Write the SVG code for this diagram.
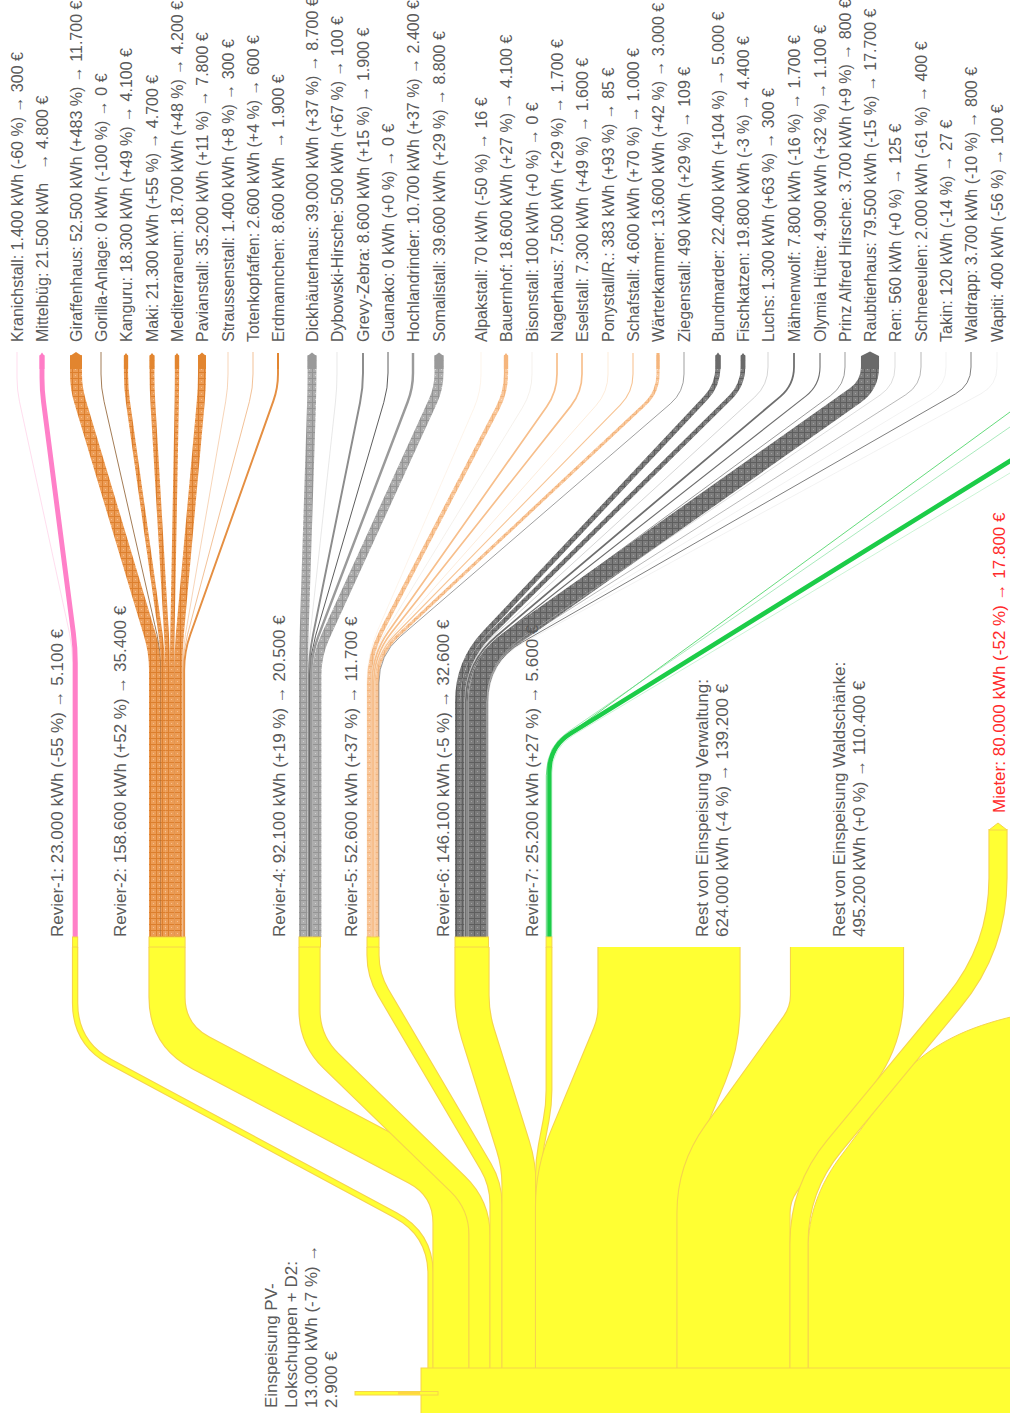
<svg xmlns="http://www.w3.org/2000/svg" width="1010" height="1413" viewBox="0 0 1010 1413">
<style>
.lbl{font-family:"Liberation Sans",Arial,sans-serif;font-size:16px;fill:#5a5a5a}
.big{font-size:17px}
.red{fill:#ff2a2a}
.lk{fill:none;stroke-linecap:butt;stroke-linejoin:round}
.yb{fill:none;stroke:#f6d44c}
.yf{fill:none;stroke:#ffff33}
.yn{fill:#ffff33;stroke:#f6d44c;stroke-width:1}
.o{stroke:url(#pO)}.g{stroke:url(#pG)}.p{stroke:url(#pP)}.d{stroke:url(#pD)}.k{stroke:#ff80c8}
</style>
<defs>
<pattern id="pO" width="6" height="6" patternUnits="userSpaceOnUse"><rect width="6" height="6" fill="#ec9c55"/><path d="M0,0.5H6M0.5,0V6" stroke="#dc7f2e" stroke-width="1"/><rect x="3" y="3" width="1" height="1" fill="#f6c08f"/></pattern>
<pattern id="pG" width="6" height="6" patternUnits="userSpaceOnUse"><rect width="6" height="6" fill="#adadad"/><path d="M0,0.5H6M0.5,0V6" stroke="#949494" stroke-width="1"/><rect x="3" y="3" width="1" height="1" fill="#d2d2d2"/></pattern>
<pattern id="pD" width="6" height="6" patternUnits="userSpaceOnUse"><rect width="6" height="6" fill="#7c7c7c"/><path d="M0,0.5H6M0.5,0V6" stroke="#5e5e5e" stroke-width="1"/><rect x="3" y="3" width="1" height="1" fill="#a2a2a2"/></pattern>
<pattern id="pP" width="6" height="6" patternUnits="userSpaceOnUse"><rect width="6" height="6" fill="#f9c699"/><path d="M0,0.5H6M0.5,0V6" stroke="#f2b47c" stroke-width="1"/><rect x="3" y="3" width="1" height="1" fill="#fde0c6"/></pattern>
<path id="y1" d="M75.1,947 V1003 Q75.1,1043 110.33,1061.93 L395.37,1215.07 Q430.6,1234 430.6,1274 V1369"/>
<path id="y2" d="M167,947 V997 Q167,1035 200.6,1052.75 L417.4,1167.25 Q451,1185 451,1223 V1369"/>
<path id="y4" d="M309.5,947 V1010 Q309.5,1040 331.03,1060.9 L457.97,1184.1 Q479.5,1205 479.5,1235 V1369"/>
<path id="y5" d="M373,947 V955 Q373,975 383.14,992.24 L485.86,1166.76 Q496,1184 496,1204 V1369"/>
<path id="y6" d="M472,947 V995 Q472,1015 477.98,1034.08 L513.02,1145.92 Q519,1165 519,1185 V1369"/>
<path id="y7" d="M549,947 V1090 Q549,1105 546.19,1119.73 L541.31,1145.27 Q538.5,1160 538.5,1175 V1369"/>
<path id="yv" d="M669,947 V1007 Q669,1032 659.39,1055.08 L616.12,1158.92 Q606.5,1182 606.5,1207 V1369"/>
<path id="yw" d="M847,947 V995 Q847,1025 829.5,1049.37 L751,1158.63 Q733.5,1183 733.5,1213 V1369"/>
<path id="ym" d="M998,829 V878 Q998,948 953.38,1001.92 L834.06,1146.13 Q799,1188.5 799,1243.5 V1369"/>
</defs>

<g id="connectors">
<use href="#y1" class="yb" stroke-width="6.4"/><use href="#y1" class="yf" stroke-width="4.2"/>
<use href="#y2" class="yb" stroke-width="37.2"/><use href="#y2" class="yf" stroke-width="35"/>
<use href="#y4" class="yb" stroke-width="22.2"/><use href="#y4" class="yf" stroke-width="20"/>
<use href="#y5" class="yb" stroke-width="13.2"/><use href="#y5" class="yf" stroke-width="11"/>
<use href="#y6" class="yb" stroke-width="35.2"/><use href="#y6" class="yf" stroke-width="33"/>
<use href="#y7" class="yb" stroke-width="6.9"/><use href="#y7" class="yf" stroke-width="4.7"/>
<use href="#yv" class="yb" stroke-width="143.2"/><use href="#yv" class="yf" stroke-width="141"/>
<use href="#yw" class="yb" stroke-width="114.2"/><use href="#yw" class="yf" stroke-width="112"/>
<path d="M808,1369 V1250 C808,1215 820,1185 838,1160 L900,1077 C932,1043 968,1027 1015,1016 L1015,1369 Z" fill="#ffff33" stroke="#f6d44c" stroke-width="1"/>
<use href="#ym" class="yb" stroke-width="19.2"/><use href="#ym" class="yf" stroke-width="17"/>

<path class="lk" stroke="#ffc6e2" stroke-width="0.6" d="M17,352 V378 Q17,390 19.53,401.73 L69.5,633.34 Q72.66,648 72.66,663 V937"/>
<path class="lk k" stroke-width="4.9" d="M42,355 V378 Q42,390 43.54,401.9 L73.38,633.12 Q75.3,648 75.3,663 V937"/>
<path class="lk o" stroke-width="11.95" d="M76,355 V374 Q76,388 80.01,401.41 L149.82,634.76 Q154.98,652 154.98,670 V937"/>
<path class="lk" stroke="#8b5a2b" stroke-width="0.8" d="M101,352 V374 Q101,388 104.1,401.65 L156.96,634.45 Q160.95,652 160.95,670 V937"/>
<path class="lk o" stroke-width="4.17" d="M126,355 V374 Q126,388 127.94,401.86 L160.54,634.17 Q163.04,652 163.04,670 V937"/>
<path class="lk o" stroke-width="4.85" d="M152,355 V374 Q152,388 152.82,401.98 L166.49,634.03 Q167.55,652 167.55,670 V937"/>
<path class="lk o" stroke-width="4.26" d="M177,355 V374 Q177,388 176.74,402 L172.43,634 Q172.1,652 172.1,670 V937"/>
<path class="lk o" stroke-width="8.01" d="M202,355 V374 Q202,388 200.75,401.94 L179.85,634.07 Q178.24,652 178.24,670 V937"/>
<path class="lk" stroke="#f1b98a" stroke-width="0.6" d="M228,352 V374 Q228,388 225.62,401.8 L185.46,634.26 Q182.4,652 182.4,670 V937"/>
<path class="lk" stroke="#eda66a" stroke-width="0.7" d="M253,352 V374 Q253,388 249.41,401.53 L187.48,634.61 Q182.86,652 182.86,670 V937"/>
<path class="lk" stroke="#e58f42" stroke-width="1.96" d="M278,353 V374 Q278,388 273.31,401.19 L190.16,635.04 Q184.13,652 184.13,670 V937"/>
<path class="lk g" stroke-width="8.88" d="M312,355 V373 Q312,388 311.52,402.99 L304.08,635.01 Q303.44,655 303.44,675 V937"/>
<path class="lk" stroke="#d8d8d8" stroke-width="0.6" d="M337,352 V373 Q337,388 335.38,402.91 L310.09,635.12 Q307.93,655 307.93,675 V937"/>
<path class="lk" stroke="#8c8c8c" stroke-width="1.96" d="M363,353 V373 Q363,388 360.03,402.7 L312.94,635.4 Q308.97,655 308.97,675 V937"/>
<path class="lk" stroke="#333" stroke-width="0.8" d="M388,352 V373 Q388,388 383.79,402.4 L315.56,635.8 Q309.95,655 309.95,675 V937"/>
<path class="lk" stroke="#9a9a9a" stroke-width="2.44" d="M413,353 V373 Q413,388 407.66,402.01 L318.3,636.32 Q311.17,655 311.17,675 V937"/>
<path class="lk g" stroke-width="9.01" d="M439,355 V373 Q439,388 432.76,401.64 L325.22,636.81 Q316.9,655 316.9,675 V937"/>
<path class="lk" stroke="#fbe2cc" stroke-width="0.4" d="M481,352 V374 Q481,392 473.84,408.52 L378.14,629.3 Q367,655 367,683 V937"/>
<path class="lk p" stroke-width="4.23" d="M506,355 V374 Q506,392 497.69,407.97 L382.03,630.16 Q369.1,655 369.1,683 V937"/>
<path class="lk" stroke="#e6dccf" stroke-width="0.4" d="M532,352 V374 Q532,392 522.61,407.36 L385.87,631.11 Q371.27,655 371.27,683 V937"/>
<path class="lk" stroke="#f7bf8c" stroke-width="1.71" d="M557,353 V374 Q557,392 546.65,406.72 L388.2,632.1 Q372.1,655 372.1,683 V937"/>
<path class="lk" stroke="#f7bf8c" stroke-width="1.66" d="M582,353 V374 Q582,392 570.83,406.11 L391.18,633.05 Q373.8,655 373.8,683 V937"/>
<path class="lk" stroke="#fbd8b6" stroke-width="0.5" d="M608,352 V374 Q608,392 596.06,405.46 L393.28,634.06 Q374.7,655 374.7,683 V937"/>
<path class="lk" stroke="#f7c494" stroke-width="1.1" d="M633,353 V374 Q633,392 620.4,404.86 L394.85,635 Q375.25,655 375.25,683 V937"/>
<path class="lk p" stroke-width="3.1" d="M658,355 V374 Q658,392 644.87,404.31 L397.73,635.86 Q377.3,655 377.3,683 V937"/>
<path class="lk" stroke="#777" stroke-width="0.7" d="M684,352 V374 Q684,392 670.37,403.75 L400.11,636.72 Q378.9,655 378.9,683 V937"/>
<path class="lk d" stroke-width="5.1" d="M718,355 V367 Q718,385 705.67,398.11 L484.95,632.86 Q457.55,662 457.55,702 V937"/>
<path class="lk d" stroke-width="4.51" d="M743,355 V367 Q743,385 730.19,397.65 L490.83,633.9 Q462.36,662 462.36,702 V937"/>
<path class="lk" stroke="#aaa" stroke-width="0.5" d="M768,352 V367 Q768,385 754.71,397.14 L494.29,635.02 Q464.76,662 464.76,702 V937"/>
<path class="lk" stroke="#6e6e6e" stroke-width="1.78" d="M794,353 V367 Q794,385 780.24,396.61 L496.37,636.2 Q465.8,662 465.8,702 V937"/>
<path class="lk" stroke="#6e6e6e" stroke-width="1.12" d="M820,353 V367 Q820,385 805.84,396.12 L498.71,637.3 Q467.25,662 467.25,702 V937"/>
<path class="lk" stroke="#888" stroke-width="0.84" d="M845,352 V367 Q845,385 830.5,395.66 L500.46,638.3 Q468.23,662 468.23,702 V937"/>
<path class="lk d" stroke-width="18.09" d="M870,356 V367 Q870,385 855.29,395.38 L510.38,638.93 Q477.7,662 477.7,702 V937"/>
<path class="lk" stroke="#bbb" stroke-width="0.5" d="M895,352 V367 Q895,385 880.1,395.11 L519.9,639.54 Q486.8,662 486.8,702 V937"/>
<path class="lk" stroke="#888" stroke-width="0.6" d="M921,352 V367 Q921,385 905.83,394.69 L520.82,640.48 Q487.1,662 487.1,702 V937"/>
<path class="lk" stroke="#ddd" stroke-width="0.4" d="M946,352 V367 Q946,385 930.59,394.31 L521.59,641.32 Q487.35,662 487.35,702 V937"/>
<path class="lk" stroke="#666" stroke-width="0.84" d="M971,352 V367 Q971,385 955.38,393.95 L522.48,642.11 Q487.78,662 487.78,702 V937"/>
<path class="lk" stroke="#ddd" stroke-width="0.4" d="M997,352 V367 Q997,385 981.19,393.61 L523.38,642.87 Q488.25,662 488.25,702 V937"/>
<path class="lk" stroke="#22cc44" stroke-width="0.7" d="M546.3,937 V775.5 Q546.3,750.5 566.49,735.76 L1060,375.5"/>
<path class="lk" stroke="#6edc8e" stroke-width="0.6" d="M546.9,937 V771.5 Q546.9,746.5 567.48,732.3 L1060,392.5"/>
<path class="lk" stroke="#1ccc48" stroke-width="4.5" d="M549.5,937 V771.5 Q549.5,746.5 570.75,733.33 L1060,430"/>
<path class="lk" stroke="#a8ecb8" stroke-width="0.6" d="M551.9,937 V772.9 Q551.9,747.9 573.34,735.04 L1060,443"/>
</g>

<g id="node-source"><rect class="yn" x="421" y="1368" width="600" height="50"/></g>
<g id="node-pv"><rect class="yn" x="355" y="1391.5" width="83" height="3.5"/><rect x="398" y="1392" width="22" height="2.5" fill="#ffd740"/>
<text class="lbl big" transform="translate(277,1408) rotate(-90)">Einspeisung PV-</text>
<text class="lbl big" transform="translate(297,1408) rotate(-90)">Lokschuppen + D2:</text>
<text class="lbl big" transform="translate(317,1408) rotate(-90)">13.000 kWh (-7 %) →</text>
<text class="lbl big" transform="translate(337,1408) rotate(-90)">2.900 €</text></g>

<g id="node-revier1"><rect class="yn" x="72.5" y="937" width="5.2" height="10"/><text class="lbl big" transform="translate(63,937) rotate(-90)">Revier-1: 23.000 kWh (-55 %) → 5.100 €</text></g>
<g id="node-revier2"><rect class="yn" x="149" y="937" width="36.1" height="10"/><text class="lbl big" transform="translate(126,937) rotate(-90)">Revier-2: 158.600 kWh (+52 %) → 35.400 €</text></g>
<g id="node-revier4"><rect class="yn" x="299" y="937" width="21.5" height="10"/><text class="lbl big" transform="translate(285,937) rotate(-90)">Revier-4: 92.100 kWh (+19 %) → 20.500 €</text></g>
<g id="node-revier5"><rect class="yn" x="367" y="937" width="12" height="10"/><text class="lbl big" transform="translate(357,937) rotate(-90)">Revier-5: 52.600 kWh (+37 %) → 11.700 €</text></g>
<g id="node-revier6"><rect class="yn" x="455" y="937" width="33.5" height="10"/><text class="lbl big" transform="translate(449,937) rotate(-90)">Revier-6: 146.100 kWh (-5 %) → 32.600 €</text></g>
<g id="node-revier7"><rect class="yn" x="546.1" y="937" width="5.8" height="10"/><text class="lbl big" transform="translate(538,937) rotate(-90)">Revier-7: 25.200 kWh (+27 %) → 5.600 €</text></g>
<g id="node-verwaltung"><text class="lbl big" transform="translate(708,937) rotate(-90)">Rest von Einspeisung Verwaltung:</text><text class="lbl big" transform="translate(728,937) rotate(-90)">624.000 kWh (-4 %) → 139.200 €</text></g>
<g id="node-waldschaenke"><text class="lbl big" transform="translate(845,937) rotate(-90)">Rest von Einspeisung Waldschänke:</text><text class="lbl big" transform="translate(865,937) rotate(-90)">495.200 kWh (+0 %) → 110.400 €</text></g>
<g id="node-mieter"><path class="yn" d="M989,830 L998,823 L1007,830 Z"/><text class="lbl big red" transform="translate(1005,813) rotate(-90)">Mieter: 80.000 kWh (-52 %) → 17.800 €</text></g>

<g id="node-kranichstall"><text class="lbl" transform="translate(22.5,342) rotate(-90)">Kranichstall: 1.400 kWh (-60 %) → 300 €</text></g>
<g id="node-mittelbueg"><path fill="#ff7cc6" d="M39.55,356 L42,352.5 L44.45,356 V369 H39.55 Z"/><text class="lbl" transform="translate(47.5,342) rotate(-90)" xml:space="preserve">Mittelbüg: 21.500 kWh   → 4.800 €</text></g>
<g id="node-giraffenhaus"><path fill="#e2852f" d="M70,356 L76,352 L82,356 V369 H70 Z"/><text class="lbl" transform="translate(81.5,342) rotate(-90)">Giraffenhaus: 52.500 kWh (+483 %) → 11.700 €</text></g>
<g id="node-gorilla"><text class="lbl" transform="translate(106.5,342) rotate(-90)">Gorilla-Anlage: 0 kWh (-100 %) → 0 €</text></g>
<g id="node-kanguru"><path fill="#e2852f" d="M123.9,356 L126,353 L128.1,356 V369 H123.9 Z"/><text class="lbl" transform="translate(131.5,342) rotate(-90)">Kanguru: 18.300 kWh (+49 %) → 4.100 €</text></g>
<g id="node-maki"><path fill="#e2852f" d="M149.6,356 L152,353 L154.4,356 V369 H149.6 Z"/><text class="lbl" transform="translate(157.5,342) rotate(-90)">Maki: 21.300 kWh (+55 %) → 4.700 €</text></g>
<g id="node-mediterraneum"><path fill="#e2852f" d="M174.9,356 L177,353 L179.1,356 V369 H174.9 Z"/><text class="lbl" transform="translate(182.5,342) rotate(-90)">Mediterraneum: 18.700 kWh (+48 %) → 4.200 €</text></g>
<g id="node-pavianstall"><path fill="#e2852f" d="M198,356 L202,352.5 L206,356 V369 H198 Z"/><text class="lbl" transform="translate(207.5,342) rotate(-90)">Pavianstall: 35.200 kWh (+11 %) → 7.800 €</text></g>
<g id="node-straussenstall"><text class="lbl" transform="translate(233.5,342) rotate(-90)">Straussenstall: 1.400 kWh (+8 %) → 300 €</text></g>
<g id="node-totenkopfaffen"><text class="lbl" transform="translate(258.5,342) rotate(-90)">Totenkopfaffen: 2.600 kWh (+4 %) → 600 €</text></g>
<g id="node-erdmannchen"><rect fill="#e2852f" x="277" y="353" width="2" height="16"/><text class="lbl" transform="translate(283.5,342) rotate(-90)" xml:space="preserve">Erdmannchen: 8.600 kWh  → 1.900 €</text></g>
<g id="node-dickhaeuterhaus"><path fill="#999" d="M307.56,356 L312,352.5 L316.44,356 V369 H307.56 Z"/><text class="lbl" transform="translate(317.5,342) rotate(-90)">Dickhäuterhaus: 39.000 kWh (+37 %) → 8.700 €</text></g>
<g id="node-dybowski"><text class="lbl" transform="translate(342.5,342) rotate(-90)">Dybowski-Hirsche: 500 kWh (+67 %) → 100 €</text></g>
<g id="node-grevy"><text class="lbl" transform="translate(368.5,342) rotate(-90)">Grevy-Zebra: 8.600 kWh (+15 %) → 1.900 €</text></g>
<g id="node-guanako"><text class="lbl" transform="translate(393.5,342) rotate(-90)">Guanako: 0 kWh (+0 %) → 0 €</text></g>
<g id="node-hochlandrinder"><text class="lbl" transform="translate(418.5,342) rotate(-90)">Hochlandrinder: 10.700 kWh (+37 %) → 2.400 €</text></g>
<g id="node-somalistall"><path fill="#999" d="M434.5,356 L439,352.5 L443.5,356 V369 H434.5 Z"/><text class="lbl" transform="translate(444.5,342) rotate(-90)">Somalistall: 39.600 kWh (+29 %) → 8.800 €</text></g>
<g id="node-alpakstall"><text class="lbl" transform="translate(486.5,342) rotate(-90)">Alpakstall: 70 kWh (-50 %) → 16 €</text></g>
<g id="node-bauernhof"><path fill="#f5b57c" d="M503.9,356 L506,353 L508.1,356 V369 H503.9 Z"/><text class="lbl" transform="translate(511.5,342) rotate(-90)">Bauernhof: 18.600 kWh (+27 %) → 4.100 €</text></g>
<g id="node-bisonstall"><text class="lbl" transform="translate(537.5,342) rotate(-90)">Bisonstall: 100 kWh (+0 %) → 0 €</text></g>
<g id="node-nagerhaus"><text class="lbl" transform="translate(562.5,342) rotate(-90)">Nagerhaus: 7.500 kWh (+29 %) → 1.700 €</text></g>
<g id="node-eselstall"><text class="lbl" transform="translate(587.5,342) rotate(-90)">Eselstall: 7.300 kWh (+49 %) → 1.600 €</text></g>
<g id="node-ponystall"><text class="lbl" transform="translate(613.5,342) rotate(-90)">Ponystall/R.: 383 kWh (+93 %) → 85 €</text></g>
<g id="node-schafstall"><text class="lbl" transform="translate(638.5,342) rotate(-90)">Schafstall: 4.600 kWh (+70 %) → 1.000 €</text></g>
<g id="node-waerterkammer"><rect fill="#f5b57c" x="656.45" y="353" width="3.1" height="16"/><text class="lbl" transform="translate(663.5,342) rotate(-90)">Wärterkammer: 13.600 kWh (+42 %) → 3.000 €</text></g>
<g id="node-ziegenstall"><text class="lbl" transform="translate(689.5,342) rotate(-90)">Ziegenstall: 490 kWh (+29 %) → 109 €</text></g>
<g id="node-bundmarder"><path fill="#6a6a6a" d="M715.45,356 L718,352.5 L720.55,356 V369 H715.45 Z"/><text class="lbl" transform="translate(723.5,342) rotate(-90)">Bundmarder: 22.400 kWh (+104 %) → 5.000 €</text></g>
<g id="node-fischkatzen"><path fill="#6a6a6a" d="M740.75,356 L743,353 L745.25,356 V369 H740.75 Z"/><text class="lbl" transform="translate(748.5,342) rotate(-90)">Fischkatzen: 19.800 kWh (-3 %) → 4.400 €</text></g>
<g id="node-luchs"><text class="lbl" transform="translate(773.5,342) rotate(-90)">Luchs: 1.300 kWh (+63 %) → 300 €</text></g>
<g id="node-maehnenwolf"><text class="lbl" transform="translate(799.5,342) rotate(-90)">Mähnenwolf: 7.800 kWh (-16 %) → 1.700 €</text></g>
<g id="node-olymia"><text class="lbl" transform="translate(825.5,342) rotate(-90)">Olymia Hütte: 4.900 kWh (+32 %) → 1.100 €</text></g>
<g id="node-prinzalfred"><text class="lbl" transform="translate(850.5,342) rotate(-90)">Prinz Alfred Hirsche: 3.700 kWh (+9 %) → 800 €</text></g>
<g id="node-raubtierhaus"><path fill="#6a6a6a" d="M861,356 L870,351.5 L879,356 V369 H861 Z"/><text class="lbl" transform="translate(875.5,342) rotate(-90)">Raubtierhaus: 79.500 kWh (-15 %) → 17.700 €</text></g>
<g id="node-ren"><text class="lbl" transform="translate(900.5,342) rotate(-90)">Ren: 560 kWh (+0 %) → 125 €</text></g>
<g id="node-schneeeulen"><text class="lbl" transform="translate(926.5,342) rotate(-90)">Schneeeulen: 2.000 kWh (-61 %) → 400 €</text></g>
<g id="node-takin"><text class="lbl" transform="translate(951.5,342) rotate(-90)">Takin: 120 kWh (-14 %) → 27 €</text></g>
<g id="node-waldrapp"><text class="lbl" transform="translate(976.5,342) rotate(-90)">Waldrapp: 3.700 kWh (-10 %) → 800 €</text></g>
<g id="node-wapiti"><text class="lbl" transform="translate(1002.5,342) rotate(-90)">Wapiti: 400 kWh (-56 %) → 100 €</text></g>
</svg>
